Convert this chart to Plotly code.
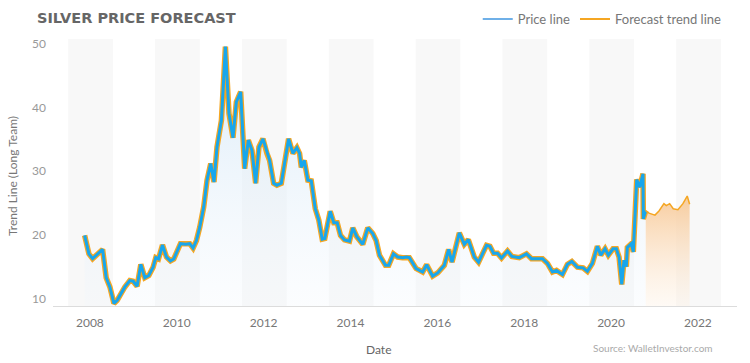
import plotly.graph_objects as go

# ---- data (decimal years, values) ----
price_x = [2007.878, 2007.977, 2008.062, 2008.154, 2008.292, 2008.375, 2008.460, 2008.552, 2008.628,
           2008.805, 2008.920, 2008.995, 2009.087, 2009.172, 2009.264, 2009.356, 2009.455, 2009.517,
           2009.579, 2009.671, 2009.763, 2009.855, 2009.931, 2010.085, 2010.207, 2010.299, 2010.375,
           2010.453, 2010.529, 2010.621, 2010.697, 2010.782, 2010.857, 2010.926, 2011.028, 2011.120,
           2011.202, 2011.294, 2011.372, 2011.471, 2011.563, 2011.648, 2011.731, 2011.816, 2011.892,
           2011.984, 2012.076, 2012.138, 2012.230, 2012.306, 2012.407, 2012.575, 2012.674, 2012.766,
           2012.828, 2012.867, 2012.936, 2013.018, 2013.097, 2013.189, 2013.271, 2013.349, 2013.409,
           2013.533, 2013.616, 2013.694, 2013.770, 2013.862, 2013.977, 2014.053, 2014.145, 2014.283,
           2014.398, 2014.513, 2014.591, 2014.667, 2014.805, 2014.880, 2014.989, 2015.087, 2015.202,
           2015.294, 2015.356, 2015.510, 2015.662, 2015.754, 2015.892, 2016.007, 2016.161, 2016.260,
           2016.338, 2016.506, 2016.621, 2016.713, 2016.851, 2016.949, 2017.133, 2017.211, 2017.294,
           2017.386, 2017.478, 2017.616, 2017.717, 2017.885, 2018.053, 2018.168, 2018.421, 2018.536,
           2018.651, 2018.743, 2018.881, 2018.995, 2019.097, 2019.225, 2019.356, 2019.455, 2019.570,
           2019.685, 2019.763, 2019.862, 2019.938, 2020.046, 2020.122, 2020.184, 2020.246, 2020.299,
           2020.352, 2020.375, 2020.467, 2020.513, 2020.591, 2020.660, 2020.736, 2020.743, 2020.798]
price_y = [19.9, 17.0, 16.25, 16.8, 17.7, 13.25, 11.8, 9.2, 9.7,
           11.8, 12.8, 12.7, 11.9, 15.35, 13.25, 13.6, 14.9, 16.4,
           16.2, 18.4, 16.5, 15.9, 16.2, 18.6, 18.5, 18.6, 17.9,
           19.1, 21.2, 24.4, 28.6, 31.2, 28.3, 33.8, 38.0, 49.6,
           39.1, 35.25, 40.9, 42.5, 30.4, 34.9, 33.3, 28.1, 33.8,
           35.1, 32.8, 31.7, 28.1, 27.8, 28.1, 35.1, 32.8, 33.7,
           32.8, 30.6, 31.7, 28.6, 28.5, 24.1, 22.3, 19.3, 19.4,
           23.7, 21.9, 21.9, 19.9, 19.2, 19.0, 21.1, 19.7, 18.5,
           21.1, 20.2, 19.1, 16.8, 15.2, 15.2, 17.0, 16.5, 16.4,
           16.5, 16.4, 14.7, 14.15, 15.3, 13.5, 14.0, 15.2, 17.7,
           15.7, 20.3, 18.5, 19.25, 16.5, 15.7, 18.35, 18.2, 17.1,
           17.1, 16.35, 17.45, 16.6, 16.4, 17.0, 16.25, 16.25, 15.5,
           14.15, 14.4, 13.75, 15.35, 15.8, 14.9, 14.8, 14.25, 15.5,
           18.2, 16.8, 17.8, 16.8, 17.8, 17.8, 16.5, 12.2, 16.0,
           15.0, 18.0, 18.6, 17.3, 28.7, 27.5, 29.6, 22.5, 23.8]

forecast_x = [2020.798, 2020.874, 2021.011, 2021.103, 2021.218, 2021.271, 2021.349,
              2021.432, 2021.540, 2021.655, 2021.754, 2021.809]
forecast_y = [23.8, 23.4, 23.1, 23.75, 24.9, 24.6, 24.9, 24.1, 23.95, 24.9, 26.1, 24.8]

tick_years = [2008, 2010, 2012, 2014, 2016, 2018, 2020, 2022]
y_ticks = [10, 20, 30, 40, 50]

FONT = "Lato"
BLUE = "#18a6ec"
ORANGE = "#f5a623"
Y0, Y1 = 8.8, 50.8

fig = go.Figure()

# blue price area (gradient)
fig.add_trace(go.Scatter(
    x=price_x, y=[Y0] * len(price_x), mode="lines", line=dict(width=0),
    showlegend=False, hoverinfo="skip"))
fig.add_trace(go.Scatter(
    x=price_x, y=price_y, mode="lines", line=dict(width=0), fill="tonexty",
    fillgradient=dict(type="vertical", start=Y0, stop=50,
                      colorscale=[[0, "rgba(240,246,252,0.25)"], [1, "rgba(205,228,246,0.75)"]]),
    showlegend=False, hoverinfo="skip"))

# orange forecast area (gradient)
fig.add_trace(go.Scatter(
    x=forecast_x, y=[Y0] * len(forecast_x), mode="lines", line=dict(width=0),
    showlegend=False, hoverinfo="skip"))
fig.add_trace(go.Scatter(
    x=forecast_x, y=forecast_y, mode="lines", line=dict(width=0), fill="tonexty",
    fillgradient=dict(type="vertical", start=Y0, stop=25,
                      colorscale=[[0, "rgba(253,240,226,0.35)"], [1, "rgba(247,200,150,0.85)"]]),
    showlegend=False, hoverinfo="skip"))

# orange trend line underneath the price line (outline)
fig.add_trace(go.Scatter(
    x=price_x, y=price_y, mode="lines", line=dict(color=ORANGE, width=5.5),
    showlegend=False, hoverinfo="skip"))
# blue price line
fig.add_trace(go.Scatter(
    x=price_x, y=price_y, mode="lines", name="Price line",
    line=dict(color=BLUE, width=3), showlegend=False))
# orange forecast line
fig.add_trace(go.Scatter(
    x=forecast_x, y=forecast_y, mode="lines", name="Forecast trend line",
    line=dict(color=ORANGE, width=1.5), showlegend=False))

# legend entries (thin sample lines)
fig.add_trace(go.Scatter(x=[None], y=[None], mode="lines", name="Price line",
                         line=dict(color="#6fb0e8", width=2)))
fig.add_trace(go.Scatter(x=[None], y=[None], mode="lines", name="Forecast trend line",
                         line=dict(color=ORANGE, width=2)))

# alternating background bands
shapes = []
for yr in tick_years:
    shapes.append(dict(type="rect", xref="x", yref="paper", x0=yr - 0.5, x1=yr + 0.53,
                       y0=0, y1=1, fillcolor="#f8f8f8", line=dict(width=0), layer="below"))

fig.update_layout(
    width=750, height=363,
    margin=dict(l=53, r=13, t=39, b=57, autoexpand=False),
    paper_bgcolor="white", plot_bgcolor="white",
    font=dict(family=FONT, color="#777"),
    shapes=shapes,
    showlegend=True,
    legend=dict(orientation="h", x=0.985, xanchor="right", y=1 + (39 - 19) / 267, yanchor="middle",
                font=dict(size=13, color="#777"), bgcolor="rgba(0,0,0,0)",
                itemwidth=30, traceorder="normal"),
    xaxis=dict(range=[2007.15, 2022.9], tickvals=tick_years, ticktext=[str(t) for t in tick_years],
               showgrid=False, zeroline=False, showline=True, linecolor="#dcdcdc", linewidth=1,
               ticks="", tickfont=dict(size=12, color="#777"), ticklabelstandoff=6),
    yaxis=dict(range=[Y0, Y1], tickvals=y_ticks, showgrid=False, zeroline=False,
               showline=False, ticks="", tickfont=dict(size=12, color="#999"),
               ticklabelstandoff=6),
    annotations=[
        dict(text="SILVER PRICE FORECAST", xref="paper", yref="paper",
             x=(35 - 53) / 684, y=1 + (39 - 18) / 267, xanchor="left", yanchor="middle",
             showarrow=False, font=dict(size=14.5, color="#666", family="DejaVu Sans", weight=700)),
        dict(text="Date", xref="paper", yref="paper", x=(378 - 53) / 684, y=-(349 - 306) / 267,
             xanchor="center", yanchor="middle", showarrow=False,
             font=dict(size=12, color="#666")),
        dict(text="Trend Line (Long Team)", xref="paper", yref="paper", x=(13 - 53) / 684,
             y=(306 - 176) / 267, xanchor="center", yanchor="middle", textangle=-90,
             showarrow=False, font=dict(size=12, color="#777")),
        dict(text="Source: WalletInvestor.com", xref="paper", yref="paper", x=(715 - 53) / 684,
             y=-(348 - 306) / 267, xanchor="right", yanchor="middle", showarrow=False,
             font=dict(size=10, color="#aaa")),
    ],
)

fig.write_html("out.html", config={"displayModeBar": False},
               post_script="document.body.style.margin='0px';document.body.style.overflow='hidden';")
